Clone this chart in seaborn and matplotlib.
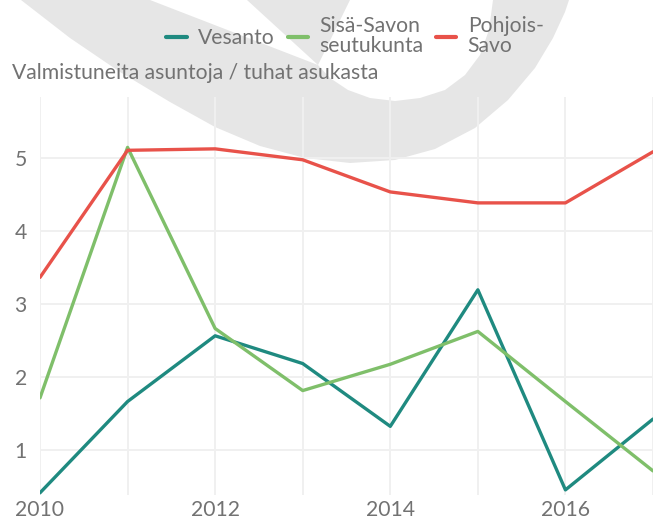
import matplotlib
matplotlib.use("Agg")
import matplotlib.pyplot as plt
import seaborn as sns
import pandas as pd
import numpy as np
from matplotlib.patches import Polygon

years = [2010, 2011, 2012, 2013, 2014, 2015, 2016, 2017]
vesanto = [0.41, 1.66, 2.56, 2.18, 1.32, 3.19, 0.45, 1.42]
sisa_savo = [1.71, 5.14, 2.66, 1.81, 2.17, 2.62, 1.66, 0.71]
pohjois_savo = [3.36, 5.10, 5.12, 4.97, 4.53, 4.38, 4.38, 5.08]
series_names = ["Vesanto", "Sisä-Savon\nseutukunta", "Pohjois-\nSavo"]
colors = ["#1f8a80", "#7fbf6a", "#e8524a"]
y_title = "Valmistuneita asuntoja / tuhat asukasta"
y_ticks = [1, 2, 3, 4, 5]
x_ticks = [2010, 2012, 2014, 2016]

df = pd.DataFrame({
    "year": years * 3,
    "value": vesanto + sisa_savo + pohjois_savo,
    "series": [series_names[0]] * len(years) + [series_names[1]] * len(years) + [series_names[2]] * len(years),
})

sns.set_theme(style="white")
plt.rcParams['font.family'] = ['Lato', 'DejaVu Sans']
text_color = "#727272"
fs = 15.2

W, H = 667, 520
fig = plt.figure(figsize=(W / 100, H / 100), dpi=100)
fig.patch.set_facecolor("white")

# background watermark (decorative)
def fp(pts):
    return [(x / W, 1 - y / H) for x, y in pts]

outer = [(21, 0), (70, 38), (120, 72), (170, 102), (215, 127), (260, 146), (305, 158),
         (350, 163), (395, 160), (435, 149), (475, 128), (508, 100), (535, 68), (553, 38), (565, 12), (569, 0)]
inner = [(493, 0), (489, 30), (480, 55), (465, 75), (445, 90), (420, 98), (395, 101), (370, 98),
         (348, 90), (330, 78), (318, 65), (350, 0)]
wedge = [(150, 0), (247, 0), (318, 65)]
wm_gray = "#e6e6e6"
fig.patches.append(Polygon(fp(outer), closed=True, transform=fig.transFigure, facecolor=wm_gray, edgecolor="none", zorder=-2))
fig.patches.append(Polygon(fp(inner), closed=True, transform=fig.transFigure, facecolor="white", edgecolor="none", zorder=-1))
fig.patches.append(Polygon(fp(wedge), closed=True, transform=fig.transFigure, facecolor="white", edgecolor="none", zorder=-1))

ax = fig.add_axes([40 / W, 25 / H, 613 / W, 398 / H])
ax.set_facecolor("none")

sns.lineplot(data=df, x="year", y="value", hue="series", hue_order=series_names,
             palette=colors, linewidth=2.4, ax=ax, legend=True)

ax.set_xlim(2010, 2017)
ax.set_ylim(0.38, 5.83)
ax.set_xticks(x_ticks)
ax.set_xticks(years, minor=True)
ax.set_yticks(y_ticks)
ax.set_xticklabels([str(t) for t in x_ticks])
ax.grid(True, which="both", axis="x", color="#f0f0f0", linewidth=1.4)
ax.grid(True, which="major", axis="y", color="#f0f0f0", linewidth=1.4)
ax.set_axisbelow(True)
for s in ax.spines.values():
    s.set_visible(False)
ax.tick_params(axis="both", which="both", length=0, colors=text_color, labelsize=fs)
ax.tick_params(axis="y", pad=9.5)
ax.tick_params(axis="x", pad=3.5)
ax.set_xlabel("")
ax.set_ylabel("")

handles, labels = ax.get_legend_handles_labels()
ax.get_legend().remove()
for h in handles:
    h.set_linewidth(3)
leg = fig.legend(handles, labels, loc="center", bbox_to_anchor=(355 / W, 1 - 36 / H),
                 ncol=3, frameon=False, fontsize=fs, handlelength=0.95, handletextpad=0.55,
                 columnspacing=0.6, labelcolor=text_color, labelspacing=0.2)
for t in leg.get_texts():
    t.set_linespacing(1.05)

fig.text(12 / W, 1 - 73 / H, y_title, ha="left", va="center", fontsize=fs, color=text_color)

fig.savefig("out.png", dpi=100)
